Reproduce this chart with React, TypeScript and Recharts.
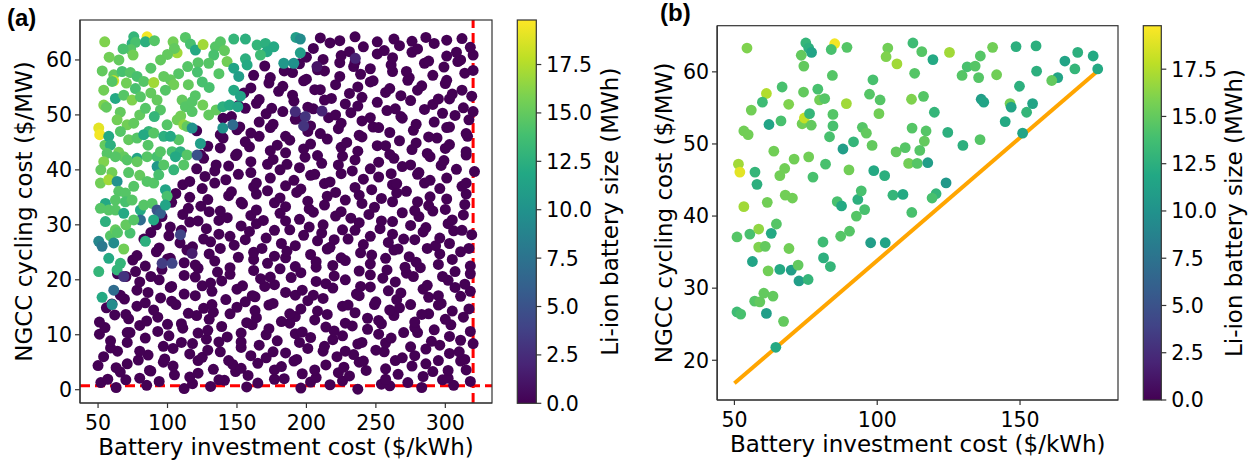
import React from "react";
import { ScatterChart, Scatter, XAxis, YAxis, ReferenceLine } from "recharts";

const FONT = '"DejaVu Sans", Verdana, sans-serif';
const Z_MAX = 19.8;
const VIRIDIS = ["#440154", "#482475", "#414487", "#355f8d", "#2a788e", "#21918c", "#22a884", "#44bf70", "#7ad151", "#bddf26", "#fde725"];

const xTicksA = [50, 100, 150, 200, 250, 300];
const yTicksA = [0, 10, 20, 30, 40, 50, 60];
const xTicksB = [50, 100, 150];
const yTicksB = [20, 30, 40, 50, 60];
const colorTicks = [0, 2.5, 5, 7.5, 10, 12.5, 15, 17.5];

const investmentLimit = 320;
const cyclingFloor = 0.7;
const breakEven = [
  { x: 50, y: 16.8 },
  { x: 178, y: 60.4 },
];

// (a) runs where no battery gets built
const zeroBatteryA: [number, number][] = [
  [52,1.3],[63,0.4],[70,1.8],[85,0.8],[94,1.5],[112,0.2],[118,1.1],[131,0.6],[141,1.7],[157,0.5],[165,1.2],[177,1.9],[196,0.3],[203,1.4],[217,0.9],[226,1.6],[237,0.1],[254,1.0],[260,0.7],[273,1.3],[283,0.4],[298,1.8],[306,0.8],[318,1.5],
  [57,1.9],[66,3.2],[80,2.1],[88,3.4],[105,2.7],[116,2.3],[122,3.0],[137,1.8],[149,3.3],[158,2.6],[177,3.6],[184,2.0],[197,2.9],[207,2.2],[223,3.1],[231,2.5],[243,3.5],[257,1.9],[266,2.8],[284,2.4],[291,3.3],[302,2.1],[315,3.6],
  [50,4.4],[63,4.0],[71,4.7],[87,3.5],[97,5.0],[104,4.3],[122,5.3],[133,3.7],[147,4.6],[153,3.9],[165,4.8],[182,4.2],[191,5.2],[206,3.6],[214,4.5],[227,4.1],[238,5.0],[257,3.8],[264,5.3],[276,4.3],[286,4.7],[302,3.5],[311,5.2],
  [54,6.0],[64,7.0],[79,5.4],[86,6.3],[98,5.6],[116,6.5],[125,5.9],[138,6.9],[144,5.3],[160,6.2],[171,5.8],[185,6.7],[193,5.5],[212,7.0],[222,6.0],[234,6.4],[241,5.2],[256,6.9],[269,5.8],[278,6.2],[295,5.3],[303,6.6],[314,5.5],
  [59,7.6],[71,8.6],[80,7.0],[97,7.9],[104,7.5],[118,8.4],[129,7.2],[137,8.7],[153,7.7],[166,8.1],[176,6.9],[195,8.6],[201,7.5],[213,7.9],[228,7.0],[237,8.3],[250,7.2],[257,8.5],[275,7.8],[286,7.4],[296,8.1],[310,6.9],[320,8.4],
  [51,10.1],[59,8.9],[73,10.4],[84,9.4],[101,9.8],[110,8.6],[122,10.3],[128,9.2],[143,9.6],[153,8.7],[171,10.0],[179,8.9],[192,10.2],[203,9.5],[219,9.1],[226,9.8],[240,8.6],[252,10.1],[261,9.4],[280,10.4],[290,8.8],[303,9.7],[311,9.0],
  [55,11.3],[71,10.4],[80,11.7],[93,10.6],[100,11.9],[111,11.2],[129,10.8],[139,11.5],[153,10.3],[161,11.8],[173,11.1],[188,12.1],[197,10.5],[214,11.4],[220,10.7],[233,11.6],[244,11.0],[254,12.0],[270,10.4],[278,11.3],[292,10.9],[304,11.8],[318,10.6],
  [51,12.3],[62,13.6],[72,12.9],[85,12.5],[93,13.2],[110,12.0],[121,13.5],[130,12.8],[145,13.8],[157,12.2],[164,13.1],[182,12.4],[192,13.3],[206,12.7],[215,13.7],[228,12.1],[244,13.0],[252,12.6],[263,13.5],[278,12.3],[288,13.8],[300,12.8],[313,13.2],
  [56,14.9],[70,13.7],[78,15.2],[90,14.5],[106,15.5],[115,13.9],[126,14.8],[133,14.1],[150,15.0],[163,14.4],[173,15.4],[188,13.8],[196,14.7],[208,14.3],[226,15.2],[235,14.0],[249,15.5],[260,14.5],[267,14.9],[283,13.7],[295,15.4],[305,14.3],[317,14.7],
  [60,15.6],[69,16.5],[84,15.8],[95,16.7],[103,16.1],[120,17.1],[132,15.5],[142,16.4],[156,16.0],[163,16.9],[176,15.7],[192,17.2],[201,16.2],[212,16.6],[230,15.4],[238,17.1],[250,16.0],[265,16.4],[275,15.5],[288,16.8],[297,15.7],[311,17.0],
  [66,17.2],[78,18.1],[86,17.7],[102,18.6],[112,17.4],[125,18.9],[132,17.9],[150,18.3],[161,17.1],[170,18.8],[185,17.7],[197,18.1],[205,17.2],[219,18.5],[236,17.4],[246,18.7],[259,18.0],[268,17.6],[284,18.3],[295,17.1],[307,18.6],[318,17.9],
  [70,20.6],[80,19.6],[94,20.0],[103,18.8],[120,20.5],[131,19.4],[139,19.8],[154,18.9],[167,20.2],[177,19.1],[189,20.4],[207,19.7],[214,19.3],[228,20.0],[239,18.8],[255,20.3],[264,19.6],[277,20.6],[287,19.0],[302,19.9],[314,19.2],
  [64,21.1],[77,21.5],[88,20.6],[96,21.9],[112,20.8],[122,22.1],[136,21.4],[145,21.0],[162,21.7],[174,20.5],[181,22.0],[196,21.3],[207,22.3],[220,20.7],[238,21.6],[246,20.9],[258,21.8],[272,21.2],[282,22.2],[298,20.6],[307,21.5],[318,21.1],
  [75,23.6],[84,22.5],[100,23.8],[112,23.1],[120,22.7],[134,23.4],[145,22.2],[162,23.7],[172,23.0],[185,24.0],[192,22.4],[207,23.3],[219,22.6],[228,23.5],[246,22.9],[257,23.9],[271,22.3],[279,23.2],[295,22.8],[305,23.7],[318,22.5],
  [78,24.4],[92,25.1],[102,23.9],[114,25.4],[130,24.7],[138,25.7],[151,24.1],[162,25.0],[177,24.3],[186,25.2],[203,24.6],[215,25.6],[225,24.0],[239,24.9],[247,24.5],[263,25.4],[274,24.2],[287,25.7],[296,24.7],[311,25.1],
  [83,27.4],[94,25.8],[109,26.7],[118,26.0],[131,26.9],[148,26.3],[156,27.3],[168,25.7],[182,26.6],[192,26.2],[208,27.1],[217,25.9],[230,27.4],[241,26.4],[259,26.8],[266,25.6],[278,27.3],[293,26.2],[303,26.6],[317,25.7],
  [88,28.6],[101,28.0],[110,29.0],[126,27.4],[137,28.3],[145,27.9],[159,28.8],[171,27.6],[188,29.1],[198,28.1],[211,28.5],[220,27.3],[235,29.0],[246,27.9],[262,28.3],[270,27.4],[284,28.7],[296,27.6],[306,28.9],[319,28.2],
  [92,30.0],[102,29.6],[116,30.5],[128,29.3],[137,30.8],[153,29.8],[164,30.2],[177,29.0],[185,30.7],[202,29.6],[212,30.0],[226,29.1],[238,30.4],[253,29.3],[262,30.6],[275,29.9],[286,29.5],[302,30.2],[312,29.0],
  [96,31.5],[111,31.9],[122,30.7],[130,32.4],[143,31.3],[160,31.7],[169,30.8],[181,32.1],[195,31.0],[205,32.3],[221,31.6],[232,31.2],[245,31.9],[254,30.7],[269,32.2],[281,31.5],[291,32.5],[305,30.9],[313,31.8],
  [103,34.1],[115,33.0],[124,33.4],[138,32.5],[154,33.8],[164,32.7],[177,34.0],[185,33.3],[202,32.9],[213,33.6],[225,32.4],[240,33.9],[249,33.2],[262,34.2],[278,32.6],[288,33.5],[300,32.8],[314,33.7],
  [106,35.7],[116,35.0],[129,34.6],[144,35.3],[153,34.1],[164,35.6],[181,34.9],[193,35.9],[201,34.3],[215,35.2],[228,34.5],[238,35.4],[254,34.8],[265,35.8],[280,34.2],[289,35.1],[301,34.7],[315,35.6],
  [111,37.3],[125,36.6],[134,37.6],[146,36.0],[162,36.9],[172,36.2],[185,37.1],[196,36.5],[213,37.5],[221,35.9],[235,36.8],[247,36.4],[262,37.3],[272,36.1],[285,37.6],[296,36.6],[312,37.0],
  [116,37.9],[127,38.8],[142,38.2],[151,39.2],[164,37.6],[174,38.5],[191,38.1],[203,39.0],[217,37.8],[225,39.3],[241,38.3],[252,38.7],[265,37.5],[280,39.2],[289,38.1],[301,38.5],[315,37.6],
  [121,40.2],[134,39.8],[144,40.7],[160,39.5],[172,41.0],[181,40.0],[195,40.4],[206,39.2],[223,40.9],[233,39.8],[246,40.2],[261,39.3],[269,40.6],[281,39.5],[297,40.8],[308,40.1],[321,39.7],
  [126,42.1],[135,40.9],[149,42.6],[160,41.5],[176,41.9],[186,41.0],[199,42.3],[211,41.2],[226,42.5],[235,41.8],[252,41.4],[263,42.1],[275,40.9],[289,42.4],[299,41.7],[315,42.7],
  [124,42.7],[138,44.0],[150,42.9],[159,44.2],[174,43.5],[185,43.1],[198,43.8],[208,42.6],[225,44.1],[237,43.4],[251,44.4],[260,42.8],[276,43.7],[287,43.0],[300,43.9],[315,43.3],
  [129,44.3],[140,45.8],[156,45.1],[166,46.1],[179,44.5],[188,45.4],[203,44.7],[215,45.6],[229,45.0],[240,46.0],[257,44.4],[267,45.3],[279,44.9],[294,45.8],[303,44.6],[316,46.1],
  [121,47.1],[138,46.4],[150,47.3],[160,46.7],[174,47.7],[185,46.1],[201,47.0],[210,46.6],[223,47.5],[238,46.3],[248,47.8],[260,46.8],[277,47.2],[288,46.0],[301,47.7],[315,46.6],
  [140,49.4],[152,47.8],[166,48.7],[176,48.3],[192,49.2],[203,48.0],[216,49.5],[225,48.5],[240,48.9],[252,47.7],[269,49.4],[279,48.3],[292,48.7],[303,47.8],[317,49.1],
  [146,49.7],[156,51.2],[171,50.2],[183,50.6],[196,49.4],[205,51.1],[221,50.0],[232,50.4],[246,49.5],[258,50.8],[268,49.7],[285,51.0],[298,50.3],[307,49.9],[320,50.6],
  [151,51.7],[164,52.1],[175,51.2],[191,52.5],[201,51.4],[213,52.7],[228,52.0],[237,51.6],[251,52.3],[264,51.1],[275,52.6],[291,51.9],[303,52.9],[313,51.3],
  [155,54.0],[166,52.8],[180,54.3],[190,53.6],[206,54.6],[218,53.0],[231,53.9],[240,53.2],[257,54.1],[268,53.5],[280,54.5],[295,52.9],[305,53.8],[319,53.4],
  [160,54.9],[173,55.8],[183,55.2],[198,56.2],[210,54.6],[221,55.5],[237,55.1],[246,56.0],[260,54.8],[273,56.3],[283,55.3],[300,55.7],[312,54.5],
  [162,57.2],[174,56.8],[190,57.7],[200,56.5],[213,58.0],[224,57.0],[239,57.4],[248,56.2],[262,57.9],[274,56.8],[291,57.2],[301,56.3],[314,57.6],
  [170,58.9],[184,58.0],[195,59.3],[208,58.2],[224,59.5],[234,58.8],[246,58.4],[261,59.1],[272,57.9],[285,59.4],[299,58.7],[309,59.7],[320,58.1],
  [200,60.5],[212,60.1],[225,60.8],[235,59.6],[251,61.1],[262,60.4],[276,61.4],[288,59.8],[301,60.7],[311,60.0],[320,60.9],
  [205,62.1],[217,63.1],[231,61.5],[241,62.4],[256,61.7],[267,62.6],[280,62.0],[292,63.0],[308,61.4],[318,62.3],
  [210,64.0],[224,63.5],[235,64.2],[251,63.3],[263,63.8],[276,63.4],[286,64.1],[301,63.6],[312,63.9],
];

// (a) runs with a battery: [cost, cycling cost, MWh]
const sizedBatteryA: [number, number, number][] = [
  [54.8,63.3,16],[85.3,64.2,19.5],[75.7,64.2,13],[74.5,63,12.5],[77,63.2,14],[73.5,61.9,14.5],[75.2,60.9,15.5],[84.1,63.3,12.5],[90.6,63.5,14.5],[104,63.3,15.5],
  [106.9,61.3,17],[105,62.1,15],[112.9,64.1,14.5],[116.5,62.9,14],[120.1,61.8,12],[125.6,62.8,17],[134.5,62.4,14.5],[138.1,63.3,14.5],[147.7,63.8,13],[156.1,63.8,12.5],
  [141,61.7,15],[133.3,60.9,14],[129.7,59.4,14.5],[142.9,59.7,15.5],[147.7,58.5,11.5],[151.3,57,11],[156.1,60.2,12.5],[164.5,62.7,13],[170.5,63,12.5],[176.5,62.4,12],
  [171.7,61.5,12],[166.9,60.9,13.5],[157.3,59.1,12],[183.7,59.4,10.5],[190.9,59.4,10],[192.5,64.1,11],[195.6,63.8,9.5],[195.6,61.3,11],[122,59.5,14.5],[114.5,58.8,14.5],
  [121.5,57.8,14],[147.7,54.5,12],[152.5,53.4,11.5],
  [108,57.5,14.5],[115,55.5,15],[125,56,14],[120,53.5,14.5],[95,60,15],[88,58.5,14.5],[100,61,15],[65,60,15],[58,60.5,15.5],[68,62,14],
  [53,58,15],[130,55,14],[137,57.5,14.5],[88,54,15],[80,50,15],[66,50.5,15],
  [235.2,60.3,2],[192,50.6,2.5],[199.2,49.7,3],[198,48,3],[211.2,50.7,2],[207.6,58.8,1],
  [61.3,57.3,15],[61.3,56.2,18.5],[54.1,54.5,15.5],[60.1,56.1,14.5],[67.3,57.9,14],[73.3,57.7,14.5],[70.4,55.8,15.5],[78.1,57,14],[76.9,54.8,14],[82.9,56.1,14.5],
  [90.1,55.9,17],[97.3,57,15],[102.1,56.4,15],[104.5,55.5,15.5],[98.5,54.5,14.5],
  [62.5,53,12],[68.5,53.6,14.5],[74.5,52.7,16],[80.5,53.3,14.5],[84.1,51.2,14.5],[92.5,52.7,15],[94.9,50.9,14.5],[110.5,52.7,15],[112.9,51.5,14.5],[117.7,52.4,14.5],
  [117.7,50.6,14.5],[125.4,51.8,15.5],[129.7,50,15],[135,50.9,15],[139.8,51.5,12.5],[144.6,51.8,12],[150.6,51.5,11.5],
  [54.1,51.8,16],[56,51.4,15],[63.7,49.1,15.5],[70.9,48.2,15.5],[75.7,48.5,15],[86.5,47,13],[90.5,49.7,13],[99.7,48.2,14.5],[107,49.1,15.5],[109.5,49.8,15.5],
  [111.7,48.2,16.5],[114.1,47.9,15],[108,45.5,14.5],[72,45.5,15],[86,44.5,14.5],[55,44.5,15],
  [50.5,47.6,19],[51.2,46.4,19.5],[57.7,46.1,12],[58.9,44.5,12.5],[66.1,47,14.5],[78.1,45.8,14.5],[82.9,46.4,12],[90.1,46.7,14.5],[97.3,46.1,12.5],[102.1,46.1,12],
  [117.7,47.6,10],[123.7,44.8,11],[139.8,47.6,10],[147,48.2,7],
  [56.5,43,14.5],[64.9,43.2,15.5],[68.5,42.4,15],[78.1,42.1,11.5],[85.3,42.4,14.5],[92.5,42.4,14],[94.9,43.3,14.5],[103.3,43.3,14],[109.3,43.3,12.5],[105.7,42.4,12],
  [114.1,42.7,14.5],[54.1,41.5,16],[62.5,42.4,14.5],[70.9,41.8,14.5],[78.1,41.5,15],[92.5,40.6,10.5],[97.3,40.9,14.5],[104.5,40,13],[111.7,40.9,14.5],[121.3,42.7,5],
  [52,40,15],[60,39.5,15.5],[72,39.5,14.5],[80,39,15],
  [51.7,37.6,15.5],[57.7,38.2,17],[63.7,37.9,10],[64.9,36.1,14.5],[69.7,35.8,14.5],[75.7,37,14.5],[85.3,37.9,14.5],[90.1,37.6,14.5],[93.7,39.1,14],[98.5,36.4,11.5],
  [99.7,35.2,14],[55.3,33.9,12],[62.5,34.5,14.5],[69.7,34.2,14],[74.5,34.5,14.5],[80.5,32.7,12],[82.9,33.6,14.5],[88.9,33.9,14.5],[92.5,32.7,5],[94.9,32.1,6],
  [98.5,33.6,11.5],[51.7,33,14.5],[57.7,32.7,14.5],[62.5,32.7,14.5],[68.5,32.1,12],[80.5,30.9,7],[73,28.5,14],[70,30,15],
  [55.3,30.6,12.5],[75.7,30.9,14.5],[90,30.9,12],[50.5,27,9],[52.9,26.1,8],[58.9,28,14.5],[62.5,29.1,15],[64,28.6,14.5],[61.3,26.7,9.5],[68.5,25.6,15.5],
  [57.7,23.9,12],[66.1,23,13],[63.7,21.8,13],[50.5,21.5,13],[68.5,20.6,3],[61.3,18.1,7],[52.9,16.8,12],[60.1,15.5,9.5],[84.1,27,12.5],[109.3,28.2,4],
  [96.1,23,3.5],[103.3,23,4],[117.7,24.8,1.5],
];

// (b) optimal battery runs: [cost, cycling cost, MWh]
const sizedBatteryB: [number, number, number][] = [
  [54.4,63.3,16],[75,64,13],[76,63.3,12.5],[77,62.7,11.5],[73.4,62.3,15],[74.3,60.8,15],[85.1,63.9,19.5],[83.9,63.1,14],[89.4,63.4,14.5],[84.3,59.5,14.5],
  [61.2,57,17.5],[66.7,57.9,14],[59.8,55.8,13.5],[55.9,54.7,15.5],[69,55.5,16],[74.2,57.2,15],[79.2,57.6,14],[79.8,56.1,15.5],[81.6,56.3,14.5],[89.2,55.6,17],
  [53.3,51.8,15.5],[54.8,51.3,15.5],[62.1,52.7,11.5],[66.3,53.2,14],[73.7,52.8,15.5],[74.5,53.6,18],[76.3,54.2,13],[76.9,52.6,15],[84.5,54.1,14.5],[84.5,52.5,14],
  [83.3,51,14],[88,49.3,11],[91.7,50.3,13],[94.8,52.3,14.5],[96.2,51.5,15],[98.2,49.8,15],
  [63.8,49,15.5],[70.9,47.9,15.5],[76,48.2,15.5],[81.9,47.2,14],[51.4,47.2,17],[51.9,46.1,19],[57.2,46.1,13],[57.9,44.4,12.5],[65.9,45.6,15.5],[67.6,46.6,15.5],
  [77.5,45.4,14],[90.1,46.4,15.5],[98.8,46.3,12],[102.6,45.6,12.5],
  [53.3,41.3,17],[61.5,41.9,15.5],[67.8,42.9,15.5],[70.3,42.5,15.5],[86,42,14],[87.5,41.4,12],[93.2,42.3,12.5],[94.4,43.5,14],[92.7,40,14.5],[95.6,40.9,14],
  [105.5,42.9,13],[109,43,12],[112.1,40.5,14],
  [112.5,64,13.5],[115.6,62.8,14.5],[119.5,61.7,12],[103.7,63.3,15.5],[103.1,62.1,16],[106.9,61.1,17],[113.1,59.8,14.5],[98.5,58.9,14],[97.3,56.9,14.5],[101,56.1,14.5],
  [100.6,54.2,15.5],[112,56.2,16],[116.2,56.6,14.5],[120,54.4,13],[112.2,52.2,14.5],[117.1,51.8,14.5],[116.5,50.4,15],[114.9,49.1,14.5],[106.6,48.9,15],[109.8,49.5,14.5],
  [111,47.3,15.5],[114,47.3,14.5],[117.7,47.4,11],[120.6,43.1,13],[119.2,42.5,14],
  [50.9,37.1,14.5],[55.4,37.5,14],[58.5,38.2,16.5],[62.9,37.6,12],[64.7,38.9,14.5],[58.5,35.7,16],[60.8,35.8,15],[69.1,35.5,15.5],[56.3,33.7,11.5],[61.8,32.4,15.5],
  [65.9,32.6,12],[69.9,32.5,11],[72.3,33.2,15],[72.6,31,11],[75.8,31.2,13],[81,36.4,13.5],[81.2,34.2,12.5],[83.6,33,13],[87.2,37.2,14.5],[90.3,37.9,14.5],
  [97.7,36.3,11],[102.8,36.3,11.5],
  [50.9,26.7,13.5],[52.2,26.4,14],[57.1,28.2,14.5],[58.9,28.1,15],[60.3,29.3,15],[63.5,28.9,15],[61.2,26.5,11],[67.2,25.4,15],[64.5,21.8,12],
  [125.3,62.7,17],[129.7,59.5,14.5],[131.5,60.7,14],[134.3,60.8,14.5],[135.5,59.2,14.5],[136.1,62.2,14.5],[140.4,63.4,15.5],[141.8,59.6,15.5],[148.6,63.5,12.5],[155.6,63.6,12.5],
  [155.8,60.1,12.5],[149.8,58,12.5],[170.2,62.7,12.5],[175.6,62.2,12],[165.7,61.5,11.5],[169.2,60.4,13],[177.2,60.4,12],[163.2,59.2,11.5],[161.1,58.8,15],[136.4,56.2,11],
  [137.3,55.8,11.5],[146.5,55.6,15.5],[146.9,55.1,11.5],[154.4,55.6,11.5],[152.3,54.4,13],[144.8,53.1,12],[150.9,51.5,11.5],[124.7,51.6,12.5],[130,49.8,12.5],[136,50.6,14.5],
  [124.1,44.6,10.5],
];

const pointsA = [
  ...zeroBatteryA.map(([x, y]) => ({ x, y, z: 0 })),
  ...sizedBatteryA.map(([x, y, z]) => ({ x, y, z })),
];
const pointsB = sizedBatteryB.map(([x, y, z]) => ({ x, y, z }));

function hexToRgb(h: string) {
  return [1, 3, 5].map((i) => parseInt(h.slice(i, i + 2), 16));
}

function viridis(v: number) {
  const t = Math.min(1, Math.max(0, v / Z_MAX)) * (VIRIDIS.length - 1);
  const i = Math.min(Math.floor(t), VIRIDIS.length - 2);
  const f = t - i;
  const a = hexToRgb(VIRIDIS[i]);
  const b = hexToRgb(VIRIDIS[i + 1]);
  const c = a.map((ai, k) => Math.round(ai + (b[k] - ai) * f));
  return `rgb(${c[0]},${c[1]},${c[2]})`;
}

const dot = (r: number) => (props: any) => (
  <circle cx={props.cx} cy={props.cy} r={r} fill={viridis(props.payload.z)} />
);

const tickStyle = { fontSize: 20.5, fill: "#000", fontFamily: FONT };
const axisStroke = { stroke: "#333", strokeWidth: 1.2 };

function Colorbar({ id, x, top, height, width }: { id: string; x: number; top: number; height: number; width: number }) {
  return (
    <g>
      <defs>
        <linearGradient id={id} x1="0" y1="1" x2="0" y2="0">
          {VIRIDIS.map((c, i) => (
            <stop key={c} offset={i / (VIRIDIS.length - 1)} stopColor={c} />
          ))}
        </linearGradient>
      </defs>
      <rect x={x} y={top} width={width} height={height} fill={`url(#${id})`} stroke="#333" strokeWidth={1.2} />
      {colorTicks.map((v) => {
        const y = top + height * (1 - v / Z_MAX);
        return (
          <g key={v}>
            <line x1={x + width} x2={x + width + 5} y1={y} y2={y} stroke="#333" strokeWidth={1.2} />
            <text x={x + width + 10} y={y + 7.4} fontSize={20.5} fontFamily={FONT} fill="#000">
              {v.toFixed(1)}
            </text>
          </g>
        );
      })}
    </g>
  );
}

const titleProps = { fontSize: 23, fontFamily: FONT, fill: "#000", textAnchor: "middle" as const };

export default function App() {
  return (
    <div style={{ position: "absolute", left: 0, top: 0, width: 1253, height: 465, background: "#fff" }}>
      <div style={{ position: "absolute", left: 0, top: 0 }}>
        <ScatterChart width={500} height={465} margin={{ top: 20, right: 8, bottom: 0, left: 0 }}>
          <XAxis
            type="number"
            dataKey="x"
            domain={[37, 333.6]}
            ticks={xTicksA}
            interval={0}
            height={62}
            tickSize={5}
            tickMargin={7}
            tick={tickStyle}
            axisLine={axisStroke}
            tickLine={axisStroke}
          />
          <YAxis
            type="number"
            dataKey="y"
            domain={[-2.42, 67.27]}
            ticks={yTicksA}
            interval={0}
            width={80}
            tickSize={5}
            tickMargin={3}
            tick={tickStyle}
            axisLine={axisStroke}
            tickLine={axisStroke}
          />
          <Scatter data={pointsA} isAnimationActive={false} shape={dot(5.5)} />
          <ReferenceLine y={cyclingFloor} stroke="#ff0000" strokeWidth={3} strokeDasharray="10 5" />
          <ReferenceLine x={investmentLimit} stroke="#ff0000" strokeWidth={3} strokeDasharray="10 5" />
        </ScatterChart>
      </div>
      <div style={{ position: "absolute", left: 637, top: 0 }}>
        <ScatterChart width={489} height={465} margin={{ top: 25.7, right: 8, bottom: 0, left: 0 }}>
          <XAxis
            type="number"
            dataKey="x"
            domain={[43.9, 184.3]}
            ticks={xTicksB}
            interval={0}
            height={65}
            tickSize={5}
            tickMargin={7}
            tick={tickStyle}
            axisLine={axisStroke}
            tickLine={axisStroke}
          />
          <YAxis
            type="number"
            dataKey="y"
            domain={[14.49, 66.4]}
            ticks={yTicksB}
            interval={0}
            width={80}
            tickSize={5}
            tickMargin={3}
            tick={tickStyle}
            axisLine={axisStroke}
            tickLine={axisStroke}
          />
          <ReferenceLine segment={breakEven} stroke="#ffa500" strokeWidth={4} />
          <Scatter data={pointsB} isAnimationActive={false} shape={dot(5.4)} />
        </ScatterChart>
      </div>
      <svg width={1253} height={465} style={{ position: "absolute", left: 0, top: 0, pointerEvents: "none" }}>
        <rect x={80} y={20} width={412} height={383} fill="none" stroke="#333" strokeWidth={1.2} />
        <rect x={717.3} y={25.7} width={400.7} height={374.3} fill="none" stroke="#333" strokeWidth={1.2} />
        <text x={7} y={26} fontSize={24} fontWeight="bold" fontFamily='"Liberation Sans", Arial, sans-serif'>(a)</text>
        <text x={660} y={21} fontSize={24} fontWeight="bold" fontFamily='"Liberation Sans", Arial, sans-serif'>(b)</text>
        <text x={286} y={455} {...titleProps}>Battery investment cost ($/kWh)</text>
        <text x={917.7} y={451.7} {...titleProps}>Battery investment cost ($/kWh)</text>
        <text x={31.7} y={211.5} transform="rotate(-90 31.7 211.5)" {...titleProps}>NGCC cycling cost ($/MW)</text>
        <text x={672} y={212.9} transform="rotate(-90 672 212.9)" {...titleProps}>NGCC cycling cost ($/MW)</text>
        <Colorbar id="cbA" x={517.3} top={20} height={383.3} width={19} />
        <Colorbar id="cbB" x={1143.3} top={25.7} height={374.3} width={18} />
        <text x={618.4} y={211.7} transform="rotate(-90 618.4 211.7)" {...titleProps}>Li-ion battery size (MWh)</text>
        <text x={1242} y={213} transform="rotate(-90 1242 213)" {...titleProps}>Li-ion battery size (MWh)</text>
      </svg>
    </div>
  );
}
